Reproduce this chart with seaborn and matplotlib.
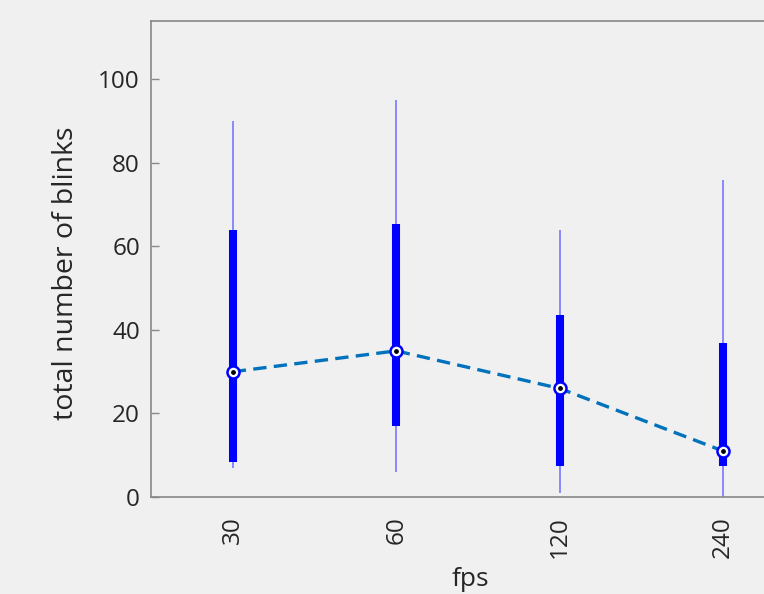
import matplotlib
matplotlib.use("Agg")
import matplotlib.pyplot as plt
import seaborn as sns
import numpy as np
import pandas as pd

# Blink counts per frame rate: whisker ends, box (quartile) ends, medians
fps = ["30", "60", "120", "240"]
whisker_low = [7, 6, 1, 0]
whisker_high = [90, 95, 64, 76]
box_low = [8.5, 17, 7.5, 7.5]
box_high = [64, 65.5, 43.5, 37]
medians = [30, 35, 26, 11]

sns.set_theme(style="white")
plt.rcParams["font.family"] = ["Open Sans", "DejaVu Sans"]

bg = "#f0f0f0"
fig = plt.figure(figsize=(7.64, 5.94), dpi=100, facecolor=bg)
ax = fig.add_axes([151 / 764, 97 / 594, 654 / 764, 476 / 594], facecolor=bg)

df = pd.DataFrame({"fps": fps, "median": medians})
pos = np.arange(len(fps))

# whiskers and boxes
ax.vlines(pos, whisker_low, whisker_high, color="#7777ff", lw=1.2, zorder=2)
ax.vlines(pos, box_low, box_high, color="#0000ff", lw=5.8, zorder=3)

# median trend
sns.lineplot(data=df, x="fps", y="median", ax=ax, color="#0072bd",
             lw=2.4, dashes=False, zorder=4, sort=False)
ax.lines[-1].set_linestyle((0, (4, 2.2)))

# median markers
ax.scatter(pos, medians, s=75, facecolor="white", edgecolor="#0000ff",
           linewidth=1.8, zorder=5)
ax.scatter(pos, medians, s=6, color="black", zorder=6)

ax.set_xlim(-0.5, 3.5)
ax.set_ylim(0, 114)
ax.set_yticks([0, 20, 40, 60, 80, 100])
ax.set_xticks(pos)
ax.set_xticklabels(fps, rotation=90)

ax.set_xlabel("fps", fontsize=19, color="#262626")
ax.set_ylabel("total number of blinks", fontsize=20.5, color="#262626")
ax.xaxis.set_label_coords(0.488, -0.148)
ax.yaxis.set_label_coords(-0.108, 0.47)

ax.tick_params(axis="y", direction="in", length=6, width=1, color="#888888",
               labelsize=17.5, labelcolor="#262626", pad=8, left=True)
ax.tick_params(axis="x", direction="in", length=0, labelsize=17.5,
               labelcolor="#262626", pad=14)

for s in ax.spines.values():
    s.set_color("#888888")
    s.set_linewidth(1.2)

fig.savefig("out.png", dpi=100, facecolor=bg)
